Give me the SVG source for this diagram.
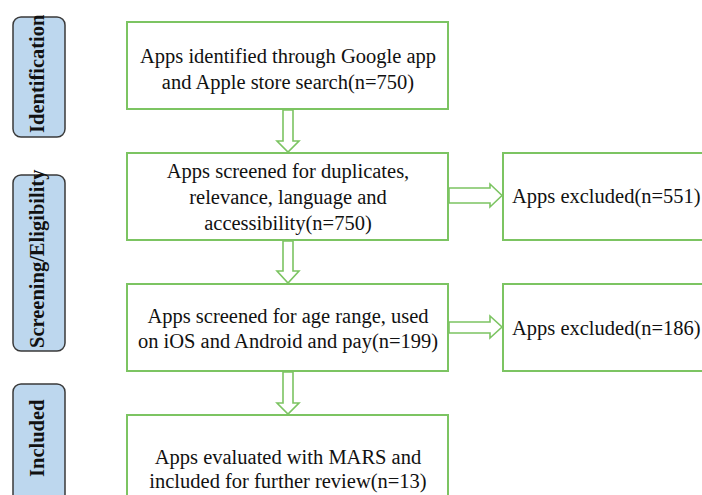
<svg xmlns="http://www.w3.org/2000/svg" width="702" height="495" viewBox="0 0 702 495">
  <style>
    .box { fill: #ffffff; stroke: #7cc462; stroke-width: 2; }
    .arrow { fill: #ffffff; stroke: #7cc462; stroke-width: 1.6; stroke-linejoin: miter; }
    .phase { fill: #bdd7ee; stroke: #3a3a3a; stroke-width: 1.5; }
    .txt { font-family: "Liberation Serif", "Times New Roman", serif; font-size: 20.5px; fill: #111111; text-anchor: middle; }
    .lbl { font-family: "Liberation Serif", "Times New Roman", serif; font-size: 20.5px; font-weight: bold; fill: #111111; }
  </style>
  <rect width="702" height="495" fill="#ffffff"/>

  <!-- phase labels -->
  <g id="phase-identification">
    <rect class="phase" x="13" y="17" width="52" height="120" rx="8"/>
    <text class="lbl" transform="translate(44,133) rotate(-90)">Identification</text>
  </g>
  <g id="phase-screening">
    <rect class="phase" x="13" y="175" width="52" height="176" rx="8"/>
    <text class="lbl" transform="translate(44,348) rotate(-90)">Screening/Eligibility</text>
  </g>
  <g id="phase-included">
    <rect class="phase" x="13" y="384" width="52" height="130" rx="8"/>
    <text class="lbl" transform="translate(44,477) rotate(-90)">Included</text>
  </g>

  <!-- process boxes -->
  <g id="identified">
    <rect class="box" x="127" y="22" width="321" height="87"/>
    <text class="txt" x="288" y="63">Apps identified through Google app</text>
    <text class="txt" x="288" y="89">and Apple store search(n=750)</text>
  </g>
  <g id="screened">
    <rect class="box" x="127" y="153" width="321" height="87"/>
    <text class="txt" x="288" y="178">Apps screened for duplicates,</text>
    <text class="txt" x="288" y="204">relevance, language and</text>
    <text class="txt" x="288" y="230">accessibility(n=750)</text>
  </g>
  <g id="excluded-1">
    <rect class="box" x="503" y="153" width="220" height="87"/>
    <text class="txt" x="512" y="203" style="text-anchor:start">Apps excluded(n=551)</text>
  </g>
  <g id="age-screened">
    <rect class="box" x="127" y="284" width="321" height="87"/>
    <text class="txt" x="288" y="323">Apps screened for age range, used</text>
    <text class="txt" x="288" y="348">on iOS and Android and pay(n=199)</text>
  </g>
  <g id="excluded-2">
    <rect class="box" x="503" y="284" width="220" height="87"/>
    <text class="txt" x="512" y="335" style="text-anchor:start">Apps excluded(n=186)</text>
  </g>
  <g id="evaluated">
    <rect class="box" x="127" y="415" width="321" height="100"/>
    <text class="txt" x="288" y="464">Apps evaluated with MARS and</text>
    <text class="txt" x="288" y="488">included for further review(n=13)</text>
  </g>

  <!-- block arrows -->
  <g id="connectors">
    <path class="arrow" d="M283,110 L293,110 L293,141 L299,141 L288,152 L277,141 L283,141 Z"/>
    <path class="arrow" d="M283,241 L293,241 L293,271 L299,271 L288,283 L277,271 L283,271 Z"/>
    <path class="arrow" d="M283,372 L293,372 L293,403 L299,403 L288,414 L277,403 L283,403 Z"/>
    <path class="arrow" d="M449,188 L490,188 L490,184 L502,195.5 L490,207 L490,203 L449,203 Z"/>
    <path class="arrow" d="M449,322 L490,322 L490,316 L502,327 L490,338 L490,333 L449,333 Z"/>
  </g>
</svg>
